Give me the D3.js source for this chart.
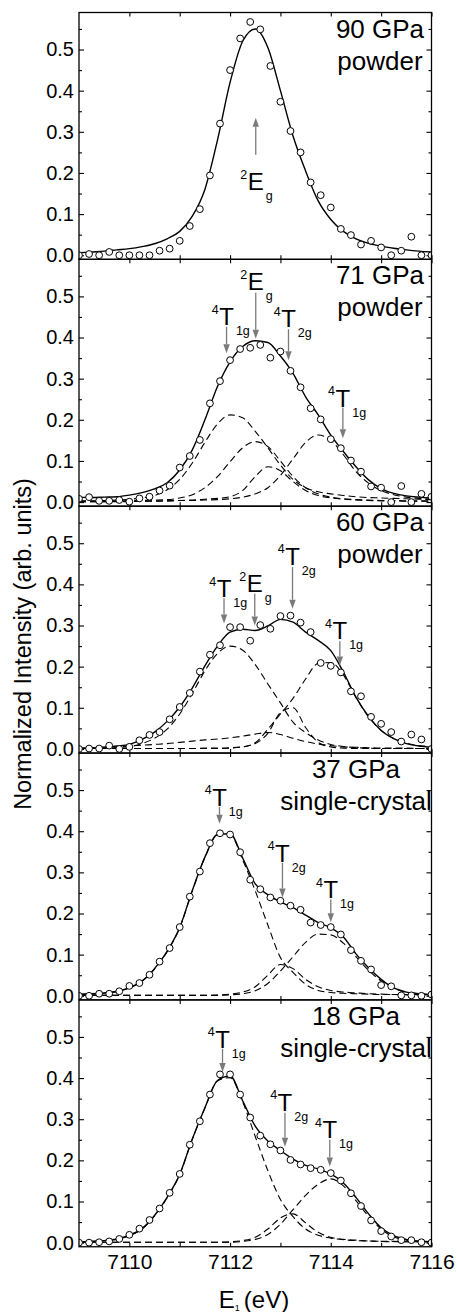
<!DOCTYPE html>
<html>
<head>
<meta charset="utf-8">
<script src="https://cdnjs.cloudflare.com/ajax/libs/d3/7.8.5/d3.min.js"></script>
<style>
  body { margin: 0; background: #fff; }
  svg { display: block; font-family: "Liberation Sans", Arial, sans-serif; }
</style>
</head>
<body>
<div id="chart"></div>
<script>
// energies of the measured points and of the sampled fit curves (eV)
var pointEnergies = [7109.0, 7109.2, 7109.4, 7109.6, 7109.8, 7110.0, 7110.2, 7110.4, 7110.6, 7110.8,
                     7111.0, 7111.2, 7111.4, 7111.6, 7111.8, 7112.0, 7112.2, 7112.4, 7112.6, 7112.8,
                     7113.0, 7113.2, 7113.4, 7113.6, 7113.8, 7114.0, 7114.2, 7114.4, 7114.6, 7114.8,
                     7115.0, 7115.2, 7115.4, 7115.6, 7115.8, 7116.0];
var curveEnergies = [7109.0, 7109.25, 7109.5, 7109.75, 7110.0, 7110.25, 7110.5, 7110.75,
                     7111.0, 7111.25, 7111.5, 7111.75, 7112.0, 7112.25, 7112.5, 7112.75,
                     7113.0, 7113.25, 7113.5, 7113.75, 7114.0, 7114.25, 7114.5, 7114.75,
                     7115.0, 7115.25, 7115.5, 7115.75, 7116.0];

// panel captions
var pressures = ["90 GPa", "71 GPa", "60 GPa", "37 GPa", "18 GPa"];
var forms = ["powder", "powder", "powder", "single-crystal", "single-crystal"];

// tick values
var yMajor = [0, 0.1, 0.2, 0.3, 0.4, 0.5];
var yMinor = [0.05, 0.15, 0.25, 0.35, 0.45, 0.55];
var xMajor = [7110, 7112, 7114, 7116];
var xMinor = [7111, 7113, 7115];

// 90 GPa
var p90Points = [0.000, 0.003, 0.000, 0.008, 0.000, 0.000, 0.000, 0.000, 0.011, 0.016,
                 0.035, 0.071, 0.112, 0.194, 0.320, 0.450, 0.527, 0.567, 0.549, 0.460,
                 0.373, 0.302, 0.250, 0.177, 0.146, 0.116, 0.064, 0.049, 0.026, 0.035,
                 0.019, 0.000, 0.011, 0.045, 0.000, 0.000];
var p90Fit = [0.006, 0.008, 0.010, 0.013, 0.016, 0.021, 0.028, 0.040, 0.058, 0.095, 0.160, 0.280,
              0.420, 0.520, 0.550, 0.505, 0.400, 0.290, 0.205, 0.132, 0.087, 0.058, 0.040, 0.029,
              0.022, 0.017, 0.013, 0.010, 0.008];

// 71 GPa
var p71Points = [0.008, 0.012, 0.003, 0.003, 0.005, 0.001, 0.009, 0.013, 0.028, 0.040,
                 0.084, 0.112, 0.151, 0.240, 0.294, 0.345, 0.372, 0.375, 0.382, 0.351,
                 0.366, 0.319, 0.279, 0.228, 0.201, 0.153, 0.131, 0.101, 0.074, 0.038,
                 0.035, 0.000, 0.039, 0.000, 0.020, 0.013];
var p71Fit = [0.012, 0.011, 0.012, 0.013, 0.017, 0.023, 0.032, 0.047, 0.078, 0.127, 0.200, 0.281,
              0.341, 0.378, 0.392, 0.388, 0.355, 0.313, 0.256, 0.212, 0.163, 0.123, 0.086, 0.054,
              0.033, 0.021, 0.015, 0.012, 0.010];
var p71T1gLow = [0.003, 0.003, 0.004, 0.005, 0.007, 0.010, 0.016, 0.030, 0.055, 0.095, 0.145, 0.190,
                 0.212, 0.205, 0.172, 0.132, 0.090, 0.055, 0.035, 0.025, 0.020, 0.016, 0.013, 0.011,
                 0.010, 0.009, 0.008, 0.007, 0.006];
var p71Eg = [0.002, 0.002, 0.002, 0.003, 0.003, 0.004, 0.005, 0.006, 0.010, 0.018, 0.035, 0.062,
             0.098, 0.132, 0.147, 0.135, 0.100, 0.062, 0.035, 0.020, 0.012, 0.008, 0.006, 0.005,
             0.004, 0.004, 0.003, 0.003, 0.003];
var p71T2g = [0.001, 0.001, 0.001, 0.001, 0.001, 0.002, 0.002, 0.003, 0.004, 0.005, 0.007, 0.009,
              0.013, 0.028, 0.062, 0.086, 0.076, 0.050, 0.028, 0.016, 0.010, 0.007, 0.005, 0.004,
              0.003, 0.003, 0.002, 0.002, 0.002];
var p71T1gHigh = [0.001, 0.001, 0.001, 0.002, 0.002, 0.002, 0.003, 0.003, 0.004, 0.004, 0.005, 0.006,
                  0.008, 0.012, 0.020, 0.035, 0.065, 0.105, 0.145, 0.163, 0.150, 0.115, 0.074, 0.046,
                  0.028, 0.018, 0.012, 0.009, 0.007];

// 60 GPa
var p60Points = [0.000, 0.001, 0.001, 0.008, 0.000, 0.005, 0.021, 0.034, 0.041, 0.072,
                 0.102, 0.136, 0.188, 0.229, 0.252, 0.296, 0.296, 0.263, 0.301, 0.292,
                 0.323, 0.324, 0.307, 0.284, 0.209, 0.202, 0.186, 0.140, 0.128, 0.078,
                 0.061, 0.041, 0.018, 0.035, 0.023, 0.000];
var p60Fit = [0.001, 0.002, 0.004, 0.007, 0.011, 0.023, 0.041, 0.067, 0.102, 0.148, 0.202, 0.250,
              0.284, 0.291, 0.288, 0.299, 0.315, 0.308, 0.284, 0.264, 0.239, 0.187, 0.126, 0.079,
              0.045, 0.025, 0.013, 0.007, 0.004];
var p60T1gLow = [0.001, 0.001, 0.002, 0.003, 0.006, 0.013, 0.026, 0.048, 0.085, 0.135, 0.190, 0.232,
                 0.250, 0.240, 0.205, 0.158, 0.112, 0.065, 0.040, 0.022, 0.011, 0.006, 0.003, 0.002,
                 0.001, 0.001, 0.001, 0.001, 0.001];
var p60Eg = [0.002, 0.003, 0.004, 0.005, 0.007, 0.009, 0.011, 0.013, 0.016, 0.019, 0.022, 0.024,
             0.027, 0.031, 0.036, 0.040, 0.035, 0.026, 0.018, 0.012, 0.008, 0.005, 0.004, 0.003,
             0.002, 0.002, 0.002, 0.001, 0.001];
var p60T2g = [0.001, 0.001, 0.001, 0.001, 0.001, 0.001, 0.001, 0.001, 0.001, 0.001, 0.001, 0.001,
              0.002, 0.005, 0.013, 0.038, 0.088, 0.100, 0.052, 0.016, 0.005, 0.002, 0.001, 0.001,
              0.001, 0.001, 0.001, 0.001, 0.001];
var p60T1gHigh = [0.001, 0.001, 0.001, 0.001, 0.001, 0.001, 0.001, 0.001, 0.001, 0.001, 0.002, 0.002,
                  0.003, 0.005, 0.015, 0.048, 0.085, 0.123, 0.170, 0.208, 0.210, 0.180, 0.125, 0.078,
                  0.045, 0.025, 0.014, 0.008, 0.005];

// 37 GPa
var p37Points = [0.000, 0.000, 0.005, 0.005, 0.011, 0.024, 0.031, 0.051, 0.083, 0.116,
                 0.167, 0.241, 0.302, 0.371, 0.395, 0.392, 0.349, 0.282, 0.259, 0.239,
                 0.231, 0.219, 0.209, 0.178, 0.172, 0.167, 0.149, 0.111, 0.085, 0.064,
                 0.026, 0.023, 0.001, 0.001, 0.000, 0.003];
var p37Fit = [0.004, 0.005, 0.007, 0.011, 0.020, 0.036, 0.066, 0.108, 0.166, 0.256, 0.337, 0.392,
              0.394, 0.335, 0.272, 0.246, 0.228, 0.214, 0.196, 0.178, 0.165, 0.143, 0.102, 0.068,
              0.040, 0.019, 0.009, 0.005, 0.003];
var p37T1gLow = [0.003, 0.004, 0.006, 0.010, 0.019, 0.035, 0.065, 0.107, 0.165, 0.255, 0.336, 0.391,
                 0.392, 0.330, 0.255, 0.172, 0.093, 0.057, 0.028, 0.013, 0.008, 0.006, 0.005, 0.004,
                 0.003, 0.003, 0.002, 0.002, 0.002];
var p37T2g = [0.001, 0.001, 0.001, 0.001, 0.001, 0.001, 0.001, 0.001, 0.001, 0.001, 0.001, 0.002,
              0.004, 0.009, 0.022, 0.050, 0.076, 0.066, 0.040, 0.022, 0.013, 0.009, 0.007, 0.005,
              0.004, 0.003, 0.003, 0.003, 0.002];
var p37T1gHigh = [0.001, 0.001, 0.001, 0.001, 0.001, 0.001, 0.001, 0.001, 0.001, 0.001, 0.001, 0.001,
                  0.002, 0.005, 0.012, 0.030, 0.060, 0.095, 0.130, 0.150, 0.148, 0.128, 0.095, 0.062,
                  0.036, 0.018, 0.009, 0.005, 0.003];

// 18 GPa
var p18Points = [0.000, 0.000, 0.001, 0.003, 0.009, 0.019, 0.034, 0.055, 0.083, 0.121,
                 0.167, 0.238, 0.295, 0.360, 0.409, 0.409, 0.360, 0.304, 0.260, 0.239,
                 0.224, 0.201, 0.190, 0.181, 0.177, 0.169, 0.151, 0.120, 0.089, 0.054,
                 0.028, 0.015, 0.006, 0.006, 0.001, 0.000];
var p18Fit = [0.002, 0.003, 0.005, 0.009, 0.018, 0.034, 0.066, 0.110, 0.166, 0.252, 0.328, 0.394,
              0.405, 0.345, 0.283, 0.247, 0.224, 0.203, 0.188, 0.179, 0.167, 0.145, 0.110, 0.070,
              0.036, 0.017, 0.008, 0.004, 0.002];
var p18T1gLow = [0.002, 0.003, 0.005, 0.008, 0.017, 0.033, 0.065, 0.109, 0.165, 0.251, 0.327, 0.393,
                 0.401, 0.342, 0.258, 0.175, 0.105, 0.063, 0.033, 0.018, 0.011, 0.007, 0.005, 0.004,
                 0.003, 0.003, 0.002, 0.002, 0.002];
var p18T2g = [0.001, 0.001, 0.001, 0.001, 0.001, 0.001, 0.001, 0.001, 0.001, 0.001, 0.001, 0.001,
              0.002, 0.005, 0.013, 0.033, 0.060, 0.070, 0.048, 0.025, 0.013, 0.008, 0.006, 0.004,
              0.003, 0.002, 0.002, 0.002, 0.002];
var p18T1gHigh = [0.001, 0.001, 0.001, 0.001, 0.001, 0.001, 0.001, 0.001, 0.001, 0.001, 0.001, 0.001,
                  0.001, 0.003, 0.008, 0.020, 0.045, 0.080, 0.115, 0.142, 0.155, 0.138, 0.102, 0.064,
                  0.033, 0.014, 0.006, 0.003, 0.002];

// transition labels: energy of the arrow, label baseline, arrow start and arrow tip (intensity units)
var p90Labels = [
  {sup: "2", base: "E", sub: "g", e: 7112.51, labelV: 0.158, fromV: 0.244, toV: 0.334}
];
var p71Labels = [
  {sup: "4", base: "T", sub: "1g", e: 7111.93, labelV: 0.430, fromV: 0.426, toV: 0.362},
  {sup: "2", base: "E", sub: "g",  e: 7112.51, labelV: 0.515, fromV: 0.509, toV: 0.397},
  {sup: "4", base: "T", sub: "2g", e: 7113.16, labelV: 0.425, fromV: 0.420, toV: 0.345},
  {sup: "4", base: "T", sub: "1g", e: 7114.24, labelV: 0.232, fromV: 0.229, toV: 0.155}
];
var p60Labels = [
  {sup: "4", base: "T", sub: "1g", e: 7111.88, labelV: 0.369, fromV: 0.366, toV: 0.305},
  {sup: "2", base: "E", sub: "g",  e: 7112.49, labelV: 0.381, fromV: 0.377, toV: 0.300},
  {sup: "4", base: "T", sub: "2g", e: 7113.24, labelV: 0.448, fromV: 0.442, toV: 0.341},
  {sup: "4", base: "T", sub: "1g", e: 7114.18, labelV: 0.266, fromV: 0.262, toV: 0.203}
];
var p37Labels = [
  {sup: "4", base: "T", sub: "1g", e: 7111.79, labelV: 0.462, fromV: 0.459, toV: 0.418},
  {sup: "4", base: "T", sub: "2g", e: 7113.04, labelV: 0.326, fromV: 0.323, toV: 0.239},
  {sup: "4", base: "T", sub: "1g", e: 7114.00, labelV: 0.237, fromV: 0.234, toV: 0.179}
];
var p18Labels = [
  {sup: "4", base: "T", sub: "1g", e: 7111.85, labelV: 0.474, fromV: 0.471, toV: 0.415},
  {sup: "4", base: "T", sub: "2g", e: 7113.09, labelV: 0.320, fromV: 0.316, toV: 0.233},
  {sup: "4", base: "T", sub: "1g", e: 7113.98, labelV: 0.254, fromV: 0.250, toV: 0.185}
];

var panels = [
  {points: p90Points, fit: p90Fit, comps: [], labels: p90Labels},
  {points: p71Points, fit: p71Fit, comps: [p71T1gLow, p71Eg, p71T2g, p71T1gHigh], labels: p71Labels},
  {points: p60Points, fit: p60Fit, comps: [p60T1gLow, p60Eg, p60T2g, p60T1gHigh], labels: p60Labels},
  {points: p37Points, fit: p37Fit, comps: [p37T1gLow, p37T2g, p37T1gHigh], labels: p37Labels},
  {points: p18Points, fit: p18Fit, comps: [p18T1gLow, p18T2g, p18T1gHigh], labels: p18Labels}
];

// layout
var width = 457;
var height = 1312;
var left = 79;
var right = 431.5;
var firstTop = 12.5;
var panelHeight = 246.85;
var fontFamily = '"Liberation Sans", Arial, sans-serif';
var arrowColor = "#7a7a7a";

var svg = d3.select("#chart")
            .append("svg")
            .attr("width", width)
            .attr("height", height);

var xScale = d3.scaleLinear()
               .domain([7109, 7116])
               .range([left, right]);

var line = function(yScale){
  return d3.line()
           .x(function(d){ return xScale(d[0]); })
           .y(function(d){ return yScale(d[1]); })
           .curve(d3.curveMonotoneX);
};

function pairs(xs, ys){
  return ys.map(function(v, i){ return [xs[i], v]; });
}

function styleAxis(g, size){
  g.attr("font-family", fontFamily)
   .attr("font-size", size);
  g.select(".domain").remove();
  g.selectAll("line").attr("stroke", "#000").attr("stroke-width", 1.1);
  g.selectAll("text").attr("fill", "#000");
}

panels.forEach(function(p, i){
  var top = firstTop + i * panelHeight;
  var bottom = top + panelHeight;
  var isLast = i === panels.length - 1;

  var yScale = d3.scaleLinear()
                 .domain([-0.01, 0.59])
                 .range([bottom, top]);

  var g = svg.append("g").attr("class", "panel");

  // clip marks to the frame
  g.append("clipPath")
   .attr("id", "clip" + i)
   .append("rect")
   .attr("x", left)
   .attr("y", top)
   .attr("width", right - left)
   .attr("height", panelHeight);

  // axes, ticks pointing inward
  g.append("g")
   .attr("transform", "translate(" + left + ",0)")
   .call(d3.axisLeft(yScale).tickValues(yMajor).tickSize(-5).tickPadding(5)
           .tickFormat(d3.format(".1f")))
   .call(styleAxis, 20);
  g.append("g")
   .attr("transform", "translate(" + left + ",0)")
   .call(d3.axisLeft(yScale).tickValues(yMinor).tickSize(-3).tickFormat(""))
   .call(styleAxis, 20);
  g.append("g")
   .attr("transform", "translate(" + right + ",0)")
   .call(d3.axisRight(yScale).tickValues(yMajor).tickSize(-5).tickFormat(""))
   .call(styleAxis, 20);
  g.append("g")
   .attr("transform", "translate(" + right + ",0)")
   .call(d3.axisRight(yScale).tickValues(yMinor).tickSize(-3).tickFormat(""))
   .call(styleAxis, 20);
  g.append("g")
   .attr("transform", "translate(0," + top + ")")
   .call(d3.axisTop(xScale).tickValues(xMajor.concat(xMinor)).tickSize(-4).tickFormat(""))
   .call(styleAxis, 21);
  g.append("g")
   .attr("transform", "translate(0," + bottom + ")")
   .call(d3.axisBottom(xScale).tickValues(xMajor.concat(xMinor)).tickSize(-4).tickPadding(7)
           .tickFormat(function(d){ return (isLast && xMajor.indexOf(d) >= 0) ? d : ""; }))
   .call(styleAxis, 21);

  var plot = g.append("g").attr("clip-path", "url(#clip" + i + ")");

  // fitted components
  plot.selectAll(".comp")
      .data(p.comps)
      .enter()
      .append("path")
      .attr("class", "comp")
      .attr("d", function(d){ return line(yScale)(pairs(curveEnergies, d)); })
      .attr("fill", "none")
      .attr("stroke", "#000")
      .attr("stroke-width", 1.1)
      .attr("stroke-dasharray", "7,4");

  // total fit
  plot.append("path")
      .attr("d", line(yScale)(pairs(curveEnergies, p.fit)))
      .attr("fill", "none")
      .attr("stroke", "#000")
      .attr("stroke-width", 1.4);

  // measured points
  plot.selectAll("circle")
      .data(pairs(pointEnergies, p.points))
      .enter()
      .append("circle")
      .attr("cx", function(d){ return xScale(d[0]); })
      .attr("cy", function(d){ return yScale(d[1]); })
      .attr("r", 3.4)
      .attr("fill", "#fff")
      .attr("stroke", "#000")
      .attr("stroke-width", 1);

  // frame
  g.append("rect")
   .attr("x", left)
   .attr("y", top)
   .attr("width", right - left)
   .attr("height", panelHeight)
   .attr("fill", "none")
   .attr("stroke", "#000")
   .attr("stroke-width", 1.3);

  // pressure and sample caption
  var captionX = forms[i] === "powder" ? 380 : 356;
  g.append("text")
   .attr("x", captionX)
   .attr("y", top + 25)
   .attr("text-anchor", "middle")
   .attr("font-family", fontFamily)
   .attr("font-size", 26)
   .text(pressures[i]);
  g.append("text")
   .attr("x", captionX)
   .attr("y", top + 57)
   .attr("text-anchor", "middle")
   .attr("font-family", fontFamily)
   .attr("font-size", 26)
   .text(forms[i]);

  // transition labels with arrows
  p.labels.forEach(function(l){
    var ax = xScale(l.e);
    var ly = yScale(l.labelV);
    var main = g.append("text")
                .attr("x", ax)
                .attr("y", ly)
                .attr("text-anchor", "middle")
                .attr("font-family", fontFamily)
                .attr("font-size", 24)
                .text(l.base);
    var w = main.node().getComputedTextLength();
    g.append("text")
     .attr("x", ax - w / 2 - 0.5)
     .attr("y", ly - 11.5)
     .attr("text-anchor", "end")
     .attr("font-family", fontFamily)
     .attr("font-size", 12.5)
     .text(l.sup);
    g.append("text")
     .attr("x", ax + w / 2 + 2)
     .attr("y", ly + 10)
     .attr("text-anchor", "start")
     .attr("font-family", fontFamily)
     .attr("font-size", 12.5)
     .text(l.sub);

    var y0 = yScale(l.fromV);
    var y1 = yScale(l.toV);
    var dir = y1 > y0 ? 1 : -1;
    var headLen = 9;
    g.append("line")
     .attr("x1", ax)
     .attr("x2", ax)
     .attr("y1", y0)
     .attr("y2", y1 - dir * headLen)
     .attr("stroke", arrowColor)
     .attr("stroke-width", 1.3);
    g.append("path")
     .attr("d", "M" + ax + "," + y1 +
                "L" + (ax - 3.2) + "," + (y1 - dir * headLen) +
                "L" + (ax + 3.2) + "," + (y1 - dir * headLen) + "Z")
     .attr("fill", arrowColor);
  });
});

// axis titles
svg.append("text")
   .attr("transform", "rotate(-90)")
   .attr("x", -644)
   .attr("y", 31)
   .attr("text-anchor", "middle")
   .attr("font-family", fontFamily)
   .attr("font-size", 23.5)
   .text("Normalized Intensity (arb. units)");

var xTitle = svg.append("text")
                .attr("x", 254)
                .attr("y", 1308)
                .attr("text-anchor", "middle")
                .attr("font-family", fontFamily)
                .attr("font-size", 24);
xTitle.append("tspan").text("E");
xTitle.append("tspan").attr("font-size", 9).attr("dy", 3).text("1");
xTitle.append("tspan").attr("dy", -3).attr("dx", 4).text("(eV)");
</script>
</body>
</html>
